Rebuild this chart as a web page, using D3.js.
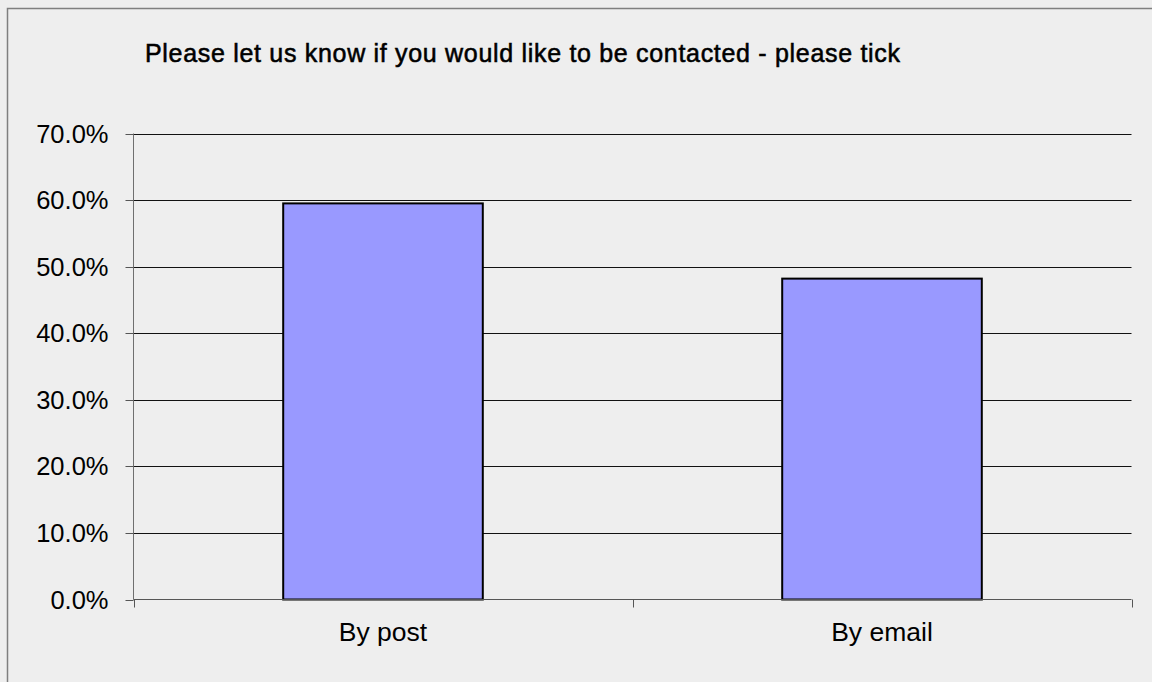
<!DOCTYPE html>
<html>
<head>
<meta charset="utf-8">
<script src="https://cdn.jsdelivr.net/npm/d3@7"></script>
<style>
  html, body { margin: 0; padding: 0; background: #eeeeee; }
  svg { display: block; }
  text { font-family: "Liberation Sans", Arial, sans-serif; fill: #000; }
</style>
</head>
<body>
<svg id="chart" width="1152" height="682"></svg>
<script>
// Survey responses: share of respondents who ticked each contact option
const categories = ["By post", "By email"];
const values = [0.595, 0.482];
const yTicks = [0, 0.1, 0.2, 0.3, 0.4, 0.5, 0.6, 0.7];
const title = "Please let us know if you would like to be contacted - please tick";

const svg = d3.select("#chart");
const W = 1152, H = 682;
const plot = { left: 133.5, right: 1131.5, top: 133.5, bottom: 599.5 };

// Outer chart frame (continues past the right and bottom edges)
svg.append("rect")
  .attr("x", 7.5).attr("y", 8.5)
  .attr("width", W + 20).attr("height", H + 20)
  .attr("fill", "#eeeeee")
  .attr("stroke", "#7f7f7f")
  .attr("stroke-width", 1.5);

// Title: regular face thickened slightly with a thin stroke
svg.append("text")
  .attr("x", 145).attr("y", 61.5)
  .attr("font-size", 25)
  .attr("stroke", "#000")
  .attr("stroke-width", 0.55)
  .attr("textLength", 755)
  .attr("lengthAdjust", "spacing")
  .text(title);

const x = d3.scaleBand()
  .domain(categories)
  .range([plot.left, plot.right])
  .paddingInner(0.6)
  .paddingOuter(0.3);

const y = d3.scaleLinear()
  .domain([0, 0.7])
  .range([plot.bottom, plot.top]);

// Horizontal gridlines
svg.append("g")
  .selectAll("line")
  .data(yTicks.slice(1))
  .join("line")
  .attr("x1", plot.left).attr("x2", plot.right)
  .attr("y1", d => Math.round(y(d)) + 0.5)
  .attr("y2", d => Math.round(y(d)) + 0.5)
  .attr("stroke", "#111")
  .attr("stroke-width", 1);

// Bars
svg.append("g")
  .selectAll("rect")
  .data(categories)
  .join("rect")
  .attr("x", d => x(d))
  .attr("width", x.bandwidth())
  .attr("y", (d, i) => y(values[i]))
  .attr("height", (d, i) => y(0) - y(values[i]))
  .attr("fill", "#9999ff")
  .attr("stroke", "#000")
  .attr("stroke-width", 2);

// Y axis
const yAxis = d3.axisLeft(y)
  .tickValues(yTicks)
  .tickSize(8)
  .tickPadding(17)
  .tickFormat(d3.format(".1%"));

const gy = svg.append("g")
  .attr("transform", `translate(${plot.left},0)`)
  .call(yAxis);
gy.select(".domain").attr("stroke", "#6f6f6f").attr("d", `M0,${plot.top}V${plot.bottom}`);
gy.selectAll(".tick line").attr("stroke", "#555");
gy.selectAll(".tick").attr("transform", d => `translate(0,${Math.round(y(d)) + 0.5})`);
gy.selectAll(".tick text")
  .attr("font-size", 25.5)
  .attr("font-family", "Liberation Sans, Arial, sans-serif")
  .attr("fill", "#000");

// X axis: ticks at category boundaries, labels at category centres
const xb = d3.scaleLinear().domain([0, categories.length]).range([plot.left, plot.right]);
const gx = svg.append("g");
gx.append("line")
  .attr("x1", plot.left).attr("x2", plot.right)
  .attr("y1", plot.bottom).attr("y2", plot.bottom)
  .attr("stroke", "#555");
gx.selectAll("line.tk")
  .data(d3.range(categories.length + 1))
  .join("line")
  .attr("class", "tk")
  .attr("x1", d => Math.round(xb(d)) + 0.5).attr("x2", d => Math.round(xb(d)) + 0.5)
  .attr("y1", plot.bottom).attr("y2", plot.bottom + 8)
  .attr("stroke", "#555");
gx.selectAll("text")
  .data(categories)
  .join("text")
  .attr("x", d => x(d) + x.bandwidth() / 2)
  .attr("y", plot.bottom + 41)
  .attr("text-anchor", "middle")
  .attr("font-size", 26.5)
  .text(d => d);
</script>
</body>
</html>
